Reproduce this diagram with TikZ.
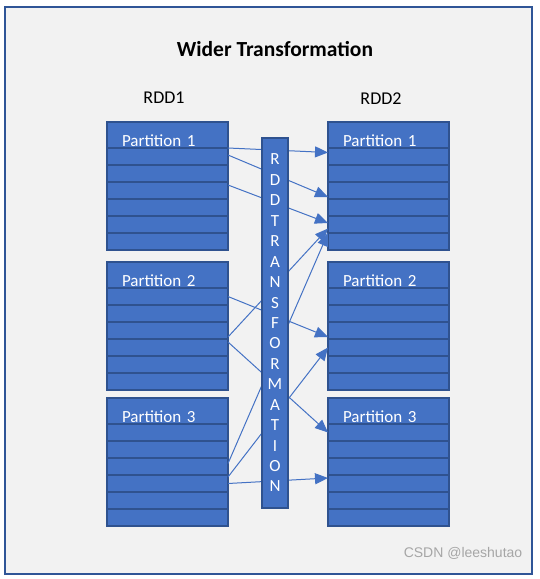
\documentclass[tikz,border=0pt]{standalone}
\usepackage{fontspec}
\setmainfont{Carlito}
\newfontfamily\marksans{Liberation Sans}
\usetikzlibrary{arrows.meta,positioning}
\definecolor{boxblue}{HTML}{4472C4}
\definecolor{boxline}{HTML}{2F528F}
\definecolor{framegray}{HTML}{F2F2F2}
\definecolor{frameline}{HTML}{2F5597}
\definecolor{markgray}{HTML}{A6A6A6}
\tikzset{
    %Define standard arrow tip
    >={Triangle[length=13pt,width=11pt]},
    %Define style for the outer frame
    frame/.style={
           fill=framegray,
           draw=frameline, line width=2pt},
    %Define style for partition boxes
    parthead/.style={
           rectangle,
           fill=boxblue, draw=boxline, line width=1.5pt,
           text=white, font=\fontsize{17}{20}\selectfont,
           text width=91pt, align=left,
           inner xsep=15pt, inner ysep=0.5pt,
           text height=24pt, text depth=1pt,
           outer sep=0pt},
    partrow/.style={
           rectangle,
           fill=boxblue, draw=boxline, line width=1.5pt,
           minimum width=121pt, minimum height=17pt,
           inner sep=0pt, outer sep=0pt},
    rddbar/.style={
           rectangle,
           fill=boxblue, draw=boxline, line width=1.5pt,
           text=white, font=\fontsize{17}{20.44}\selectfont,
           align=center,
           minimum width=26pt, minimum height=370pt,
           inner sep=0pt},
    % Define arrow style
    shuffle/.style={
           ->,
           draw=boxblue,
           line width=1pt},
    caption/.style={font=\fontsize{18}{20}\selectfont},
}

\begin{document}
\begin{tikzpicture}[x=1pt, y=-1pt]
 \useasboundingbox (0,0) rectangle (539,579);
 \draw[frame] (5,7) rectangle (532,574);
 %titles
 \node[font=\bfseries\fontsize{21.5}{24}\selectfont] (title) at (275,49) {Wider Transformation};
 \node[caption] (rdd1) at (164,98) {RDD1};
 \node[caption] (rdd2) at (381,99) {RDD2};
 %partitions
 \foreach \s/\x in {l/107,r/328}
  \foreach \p/\y in {1/122,2/262,3/398}{
   \node[parthead, anchor=north west] (\s\p h) at (\x,\y) {Partition \p};
   \node[partrow, below=0pt of \s\p h] (\s\p r1) {};
   \foreach \r [count=\q from 1] in {2,...,6}
     \node[partrow, below=0pt of \s\p r\q] (\s\p r\r) {};
  }
 %edges
 \draw[shuffle] (l1r1.north east) -- ([yshift=4pt]r1r1.west);
 \draw[shuffle] ([yshift=1.5pt]l1r1.east) -- ([yshift=2pt]r1r3.south west);
 \draw[shuffle] ([yshift=-3pt]l1r3.north east) -- ([yshift=1.5pt]r1r5.west);
 \draw[shuffle] ([yshift=2pt]l2r3.south east) -- ([yshift=-4pt]r1r5.west);
 \draw[shuffle] ([yshift=3pt]l3r3.east) -- (r1r6.north west);
 \draw[shuffle] (l2r1.east) -- ([yshift=2pt]r2r3.south west);
 \draw[shuffle] ([yshift=-3pt]l2r4.north east) -- (r3r1.west);
 \draw[shuffle] ([yshift=-2pt]l3r4.north east) -- (r2r4.west);
 \draw[shuffle] (l3r4.east) -- ([yshift=-3pt]r3r4.north west);
 %middle bar
 \node[rddbar] (bar) at (275,323) {R\\D\\D\\T\\R\\A\\N\\S\\F\\O\\R\\M\\A\\T\\I\\O\\N};
 \node[font=\marksans\fontsize{14}{16}\selectfont, text=markgray] (mark) at (463,553) {CSDN @leeshutao};
\end{tikzpicture}
\end{document}
